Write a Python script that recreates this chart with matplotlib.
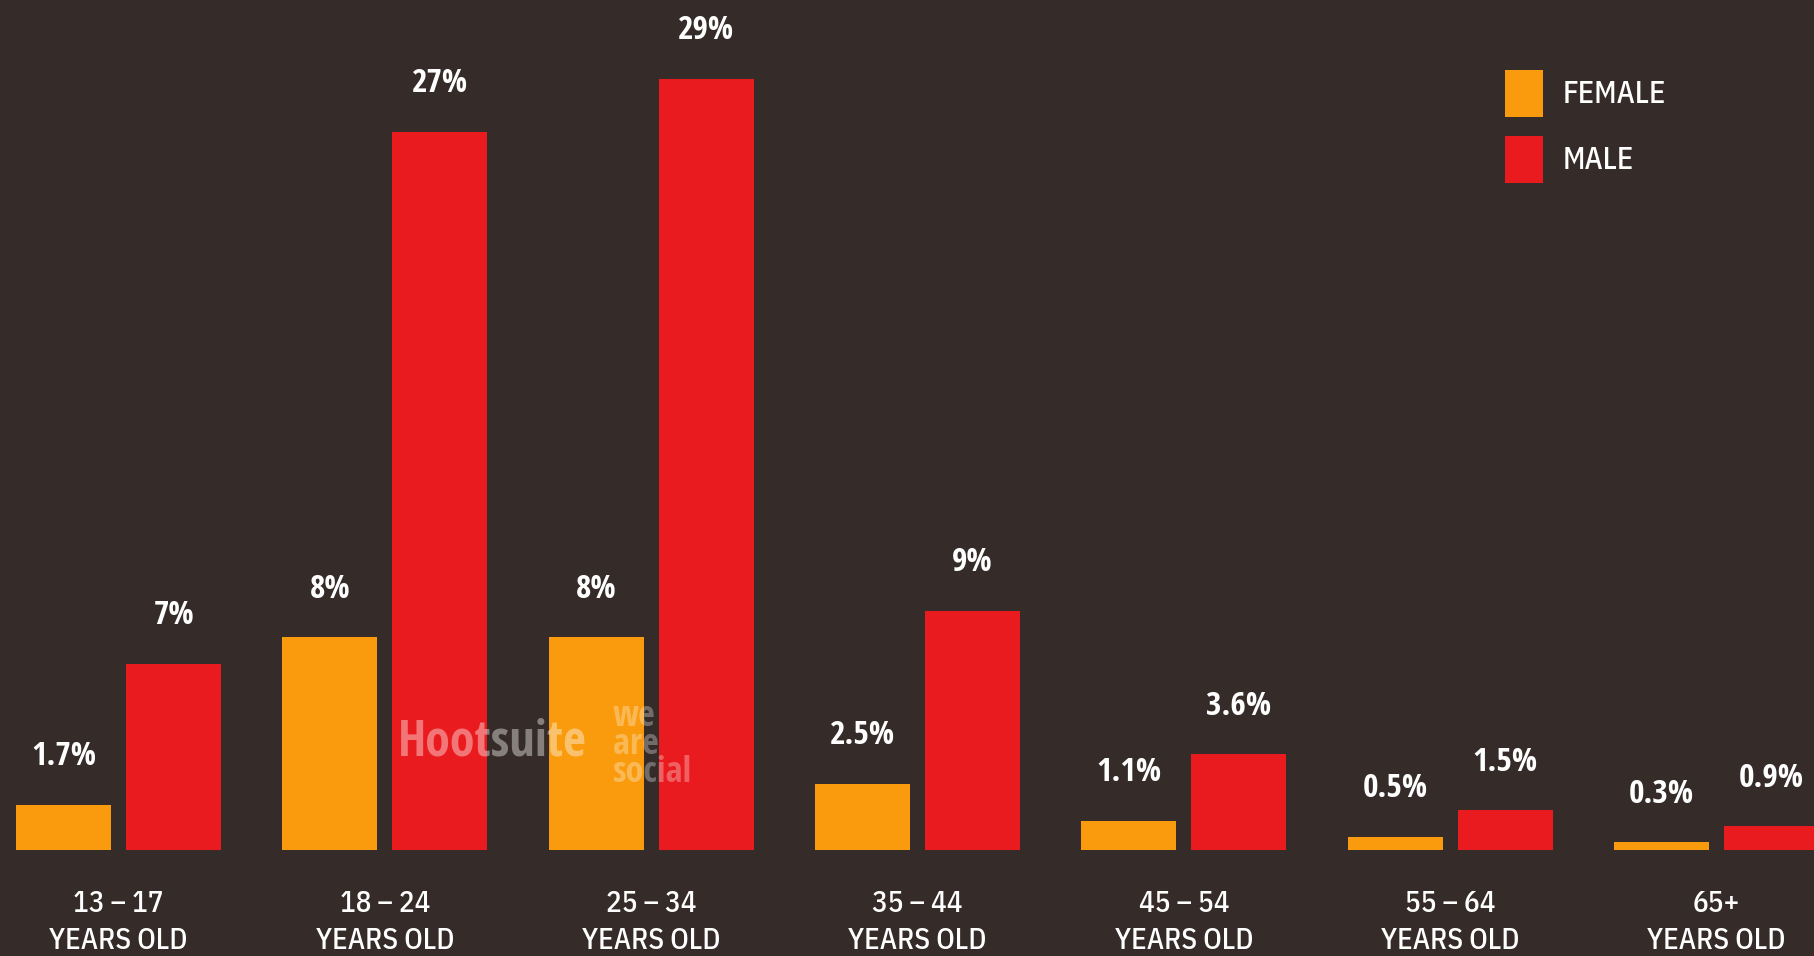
import matplotlib.pyplot as plt
import numpy as np

# share of users by age group and gender (%)
age_groups = ["13 – 17", "18 – 24", "25 – 34", "35 – 44", "45 – 54", "55 – 64", "65+"]
female = [1.7, 8, 8, 2.5, 1.1, 0.5, 0.3]
male = [7, 27, 29, 9, 3.6, 1.5, 0.9]
female_labels = ["1.7%", "8%", "8%", "2.5%", "1.1%", "0.5%", "0.3%"]
male_labels = ["7%", "27%", "29%", "9%", "3.6%", "1.5%", "0.9%"]

BG = "#352C29"
ORANGE = "#F99B0C"
RED = "#EA1B1F"
BOLD = ["Open Sans Condensed", "DejaVu Sans"]
REG = ["IBM Plex Sans Condensed", "DejaVu Sans"]

plt.rcParams["font.family"] = REG

W, H = 1814, 956
fig = plt.figure(figsize=(W / 100, H / 100), dpi=100, facecolor=BG)
base = 850  # pixel row of the bar baseline
ax = fig.add_axes([0, (H - base) / H, 1, base / H])
ax.set_facecolor(BG)

x = np.arange(len(age_groups))
step = 266.3
width = 95 / step
off = 55 / step

b1 = ax.bar(x - off, female, width, color=ORANGE, label="FEMALE")
b2 = ax.bar(x + off, male, width, color=RED, label="MALE")

ax.set_xlim(-118.6 / step, (W - 118.6) / step)
ax.set_ylim(0, base / 26.6)

for bars, labels in ((b1, female_labels), (b2, male_labels)):
    for rect, lab in zip(bars, labels):
        ax.annotate(lab, (rect.get_x() + rect.get_width() / 2, rect.get_height()),
                    xytext=(0, 48), textcoords="offset pixels",
                    ha="center", va="center", color="white",
                    fontsize=24, fontweight="bold", family=BOLD)

ax.set_xticks(x, [f"{g}\nYEARS OLD" for g in age_groups])
ax.tick_params(axis="x", length=0, pad=29, labelsize=21, labelcolor="white")
for t in ax.get_xticklabels():
    t.set_linespacing(1.4)
    t.set_fontweight(500)
ax.set_yticks([])
for s in ax.spines.values():
    s.set_visible(False)

leg = ax.legend(loc="upper left", bbox_to_anchor=(1505 / W, 1 - 70 / H),
                bbox_transform=fig.transFigure, frameon=False,
                prop={"family": REG, "size": 22, "weight": 500},
                borderpad=0, borderaxespad=0, handlelength=1.24, handleheight=2.0,
                labelspacing=0.62, handletextpad=0.66)
for t in leg.get_texts():
    t.set_color("white")

# faint watermark over the middle groups
fig.text(398 / W, 1 - 742 / H, "Hootsuite", color="white", alpha=0.4,
         fontsize=36, fontweight="bold", family=BOLD, va="center")
fig.text(613 / W, 1 - 745 / H, "we\nare\nsocial", color="white", alpha=0.3,
         fontsize=26, fontweight="bold", family=BOLD, va="center",
         linespacing=0.72)

fig.savefig("out.png", dpi=100, facecolor=BG)
